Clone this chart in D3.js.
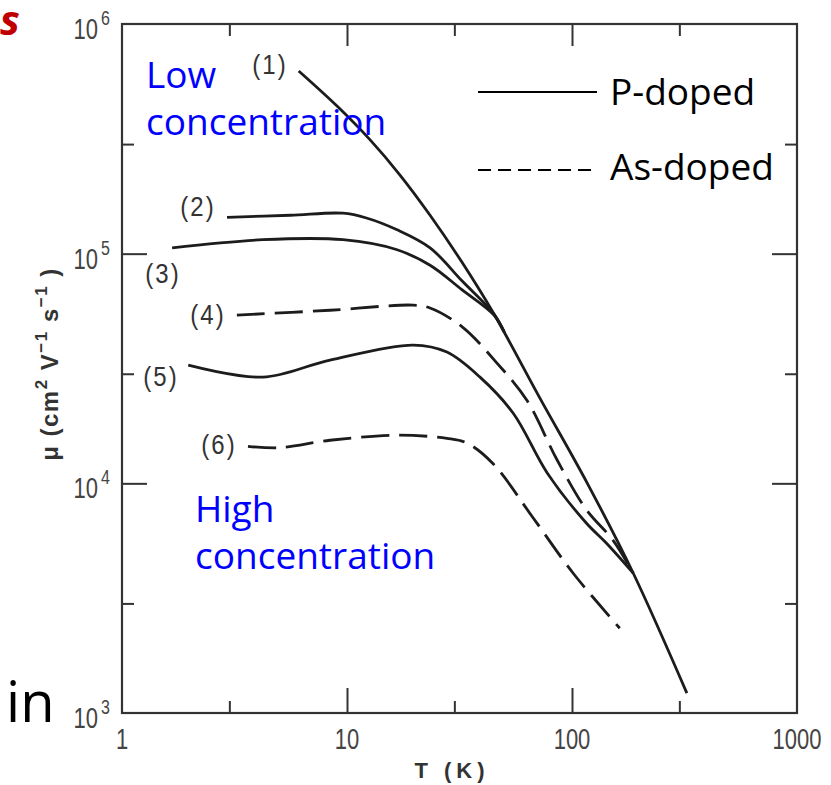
<!DOCTYPE html>
<html>
<head>
<meta charset="utf-8">
<script src="https://cdn.jsdelivr.net/npm/d3@7"></script>
<style>
  html, body { margin: 0; padding: 0; background: #fff; }
  svg { display: block; }
</style>
</head>
<body>
<svg id="chart" width="831" height="785"></svg>
<script>
// ---------------- data ----------------
const xTickValues = [1, 10, 100, 1000];
const xTickLabels = ["1", "10", "100", "1000"];
const xMinorTicks = [3, 30, 300];
const yTickValues = [1e3, 1e4, 1e5, 1e6];
const yTickExponents = ["3", "4", "5", "6"];
const yMinorTicks = [3e3, 3e4, 3e5];

const curveNames = ["(1)", "(2)", "(3)", "(4)", "(5)", "(6)"];
const curveDashed = [false, false, false, true, false, true];

// Curve (1): P-doped, low concentration
const T1  = [6.1, 9.03, 12.7, 17.2, 23.4, 32.4, 45, 72, 117, 187, 324];
const mu1 = [6.24e5, 4.39e5, 3.12e5, 2.2e5, 1.47e5, 9.19e4, 5.46e4, 2.35e4, 1.0e4, 4.07e3, 1.22e3];
// Curve (2): P-doped
const T2  = [2.93, 5.6, 9.6, 12.2, 16.7, 23.4, 32.5, 45, 50];
const mu2 = [1.44e5, 1.47e5, 1.50e5, 1.43e5, 1.27e5, 1.06e5, 7.6e4, 5.46e4, 4.56e4];
// Curve (3): P-doped
const T3  = [1.67, 4.23, 9.6, 16.7, 23.4, 32.5, 45, 50];
const mu3 = [1.06e5, 1.15e5, 1.15e5, 1.04e5, 8.9e4, 6.95e4, 5.4e4, 4.56e4];
// Curve (4): As-doped
const T4  = [3.24, 8.4, 19.7, 23.4, 32.6, 46.4, 63, 86, 116, 152, 187];
const mu4 = [5.4e4, 5.67e4, 5.97e4, 5.8e4, 4.79e4, 3.34e4, 2.3e4, 1.26e4, 7.66e3, 5.66e3, 4.07e3];
// Curve (5): P-doped
const T5  = [1.97, 4.23, 8.4, 19.7, 27.8, 39, 54.8, 77.6, 116, 142, 187];
const mu5 = [3.27e4, 2.9e4, 3.44e4, 4.0e4, 3.73e4, 2.9e4, 2.02e4, 1.11e4, 6.7e3, 5.5e3, 4.07e3];
// Curve (6): As-doped, high concentration
const T6  = [3.63, 5.04, 8.4, 16.7, 27.8, 34, 44.5, 67, 101, 163];
const mu6 = [1.45e4, 1.43e4, 1.54e4, 1.62e4, 1.57e4, 1.5e4, 1.22e4, 7.1e3, 4.07e3, 2.34e3];

const seriesT  = [T1, T2, T3, T4, T5, T6];
const seriesMu = [mu1, mu2, mu3, mu4, mu5, mu6];

// ---------------- layout ----------------
const svg = d3.select("#chart");
const pLeft = 122, pRight = 797, pTop = 24, pBottom = 713;
const x = d3.scaleLog().domain([1, 1000]).range([pLeft, pRight]);
const y = d3.scaleLog().domain([1e3, 1e6]).range([pBottom, pTop]);

const axisColor = "#333";
const lineColor = "#1c1c1c";
const figFont = "Liberation Sans, Arial, sans-serif";

// frame
svg.append("rect")
  .attr("x", pLeft).attr("y", pTop)
  .attr("width", pRight - pLeft).attr("height", pBottom - pTop)
  .attr("fill", "none").attr("stroke", axisColor).attr("stroke-width", 2.2);

function styleAxis(g) {
  g.select(".domain").remove();
  g.selectAll(".tick line").attr("stroke", axisColor).attr("stroke-width", 2);
  g.selectAll(".tick text").remove();
}
const majorLen = 25, minorLen = 12;

// bottom (ticks pointing up)
svg.append("g").attr("transform", `translate(0,${pBottom})`)
  .call(d3.axisTop(x).tickValues(xTickValues.slice(1, 3)).tickSize(majorLen).tickFormat(""))
  .call(styleAxis);
svg.append("g").attr("transform", `translate(0,${pBottom})`)
  .call(d3.axisTop(x).tickValues(xMinorTicks).tickSize(minorLen).tickFormat(""))
  .call(styleAxis);
// top (ticks pointing down)
svg.append("g").attr("transform", `translate(0,${pTop})`)
  .call(d3.axisBottom(x).tickValues(xTickValues.slice(1, 3)).tickSize(majorLen - 3).tickFormat(""))
  .call(styleAxis);
svg.append("g").attr("transform", `translate(0,${pTop})`)
  .call(d3.axisBottom(x).tickValues(xMinorTicks).tickSize(minorLen).tickFormat(""))
  .call(styleAxis);
// left (ticks pointing right)
svg.append("g").attr("transform", `translate(${pLeft},0)`)
  .call(d3.axisRight(y).tickValues(yTickValues.slice(1, 3)).tickSize(majorLen).tickFormat(""))
  .call(styleAxis);
svg.append("g").attr("transform", `translate(${pLeft},0)`)
  .call(d3.axisRight(y).tickValues(yMinorTicks).tickSize(minorLen).tickFormat(""))
  .call(styleAxis);
// right (ticks pointing left)
svg.append("g").attr("transform", `translate(${pRight},0)`)
  .call(d3.axisLeft(y).tickValues(yTickValues.slice(1, 3)).tickSize(majorLen).tickFormat(""))
  .call(styleAxis);
svg.append("g").attr("transform", `translate(${pRight},0)`)
  .call(d3.axisLeft(y).tickValues(yMinorTicks).tickSize(minorLen).tickFormat(""))
  .call(styleAxis);

// x tick labels (tall, narrow digits like the original figure)
svg.append("g").selectAll("text").data(xTickValues).join("text")
  .attr("transform", d => `translate(${x(d)},749) scale(1,1.3)`)
  .attr("text-anchor", "middle")
  .attr("font-family", figFont)
  .attr("font-size", 22).attr("fill", "#444")
  .text((d, i) => xTickLabels[i]);

// y tick labels (10 with superscript)
const yl = svg.append("g").selectAll("g").data(yTickValues).join("g");
yl.append("text")
  .attr("transform", d => `translate(98,${y(d) + 15}) scale(1,1.3)`)
  .attr("text-anchor", "end")
  .attr("font-family", figFont)
  .attr("font-size", 22).attr("fill", "#444")
  .text("10");
yl.append("text")
  .attr("transform", d => `translate(101,${y(d) + 1}) scale(1,1.3)`)
  .attr("text-anchor", "start")
  .attr("font-family", figFont)
  .attr("font-size", 16).attr("fill", "#444")
  .text((d, i) => yTickExponents[i]);

// axis titles
svg.append("text")
  .attr("x", 452).attr("y", 778)
  .attr("text-anchor", "middle")
  .attr("font-family", figFont)
  .attr("font-weight", "bold").attr("font-size", 22)
  .attr("letter-spacing", 5).attr("fill", "#333")
  .text("T (K)");

const yTitle = svg.append("text")
  .attr("transform", "translate(58,364) rotate(-90)")
  .attr("text-anchor", "middle")
  .attr("font-family", figFont)
  .attr("font-weight", "bold").attr("font-size", 24)
  .attr("letter-spacing", 1.5).attr("fill", "#333");
yTitle.append("tspan").text("μ (cm");
yTitle.append("tspan").attr("dy", -11).attr("font-size", 17).text("2");
yTitle.append("tspan").attr("dy", 11).text(" V");
yTitle.append("tspan").attr("dy", -11).attr("font-size", 17).text("−1");
yTitle.append("tspan").attr("dy", 11).text(" s");
yTitle.append("tspan").attr("dy", -11).attr("font-size", 17).text("−1");
yTitle.append("tspan").attr("dy", 11).text(" )");

// curves
const line = d3.line()
  .x(d => x(d[0])).y(d => y(d[1]))
  .curve(d3.curveCatmullRom.alpha(0.5));

seriesT.forEach((Ts, i) => {
  const pts = Ts.map((t, j) => [t, seriesMu[i][j]]);
  svg.append("path")
    .attr("d", line(pts))
    .attr("fill", "none")
    .attr("stroke", lineColor)
    .attr("stroke-width", 2.8)
    .attr("stroke-linecap", "butt")
    .attr("stroke-dasharray", curveDashed[i] ? "28,10" : null);
});

// curve labels
const labelPos = [[270, 65], [198, 207], [163, 274], [208, 315], [161, 377], [219, 445]];
svg.append("g").selectAll("text").data(curveNames).join("text")
  .attr("transform", (d, i) => `translate(${labelPos[i][0]},${labelPos[i][1] + 9}) scale(1,1.15)`)
  .attr("text-anchor", "middle")
  .attr("font-family", figFont)
  .attr("font-size", 24).attr("letter-spacing", 2).attr("fill", "#333")
  .text(d => d);

// blue annotations
const slideFont = "Open Sans, Noto Sans, sans-serif";
[["Low", 146, 88], ["concentration", 146, 135], ["High", 195, 522], ["concentration", 195, 569]]
  .forEach(([t, tx, ty]) => {
    svg.append("text").attr("x", tx).attr("y", ty)
      .attr("font-family", slideFont).attr("font-size", 37)
      .attr("fill", "#0000ff").text(t);
  });

// legend
svg.append("line").attr("x1", 478).attr("x2", 597).attr("y1", 92).attr("y2", 92)
  .attr("stroke", "#000").attr("stroke-width", 2);
svg.append("line").attr("x1", 478).attr("x2", 597).attr("y1", 170).attr("y2", 170)
  .attr("stroke", "#000").attr("stroke-width", 2).attr("stroke-dasharray", "13,7");
svg.append("text").attr("x", 610).attr("y", 105)
  .attr("font-family", slideFont).attr("font-size", 37).attr("fill", "#000").text("P-doped");
svg.append("text").attr("x", 610).attr("y", 180)
  .attr("font-family", slideFont).attr("font-size", 37).attr("fill", "#000").text("As-doped");

// slide text fragments at the edges
svg.append("text").attr("x", 0).attr("y", 35)
  .attr("font-family", slideFont).attr("font-size", 42)
  .attr("font-weight", "bold").attr("font-style", "italic")
  .attr("fill", "#c00000").text("s");
svg.append("text").attr("x", 6).attr("y", 722)
  .attr("font-family", slideFont).attr("font-size", 56)
  .attr("fill", "#000").text("in");
</script>
</body>
</html>
